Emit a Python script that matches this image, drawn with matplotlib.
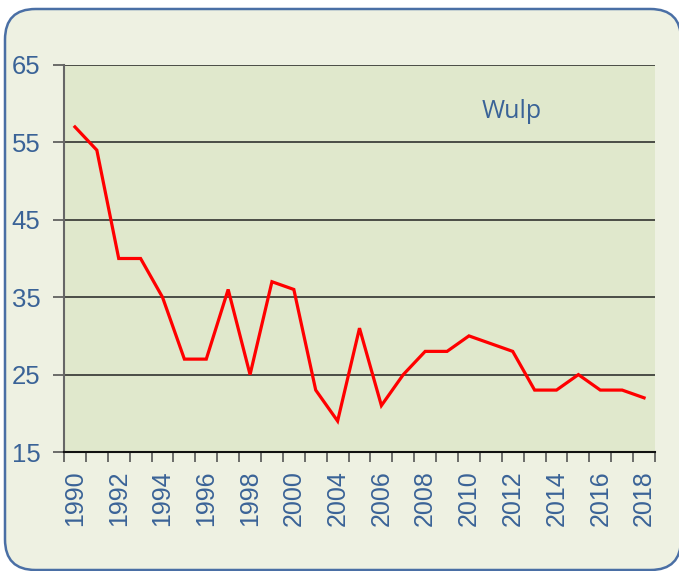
import matplotlib

matplotlib.use("Agg")

import matplotlib.pyplot as plt
from matplotlib.patches import FancyBboxPatch

# Jaren (categorie-as; tussen 2000 en 2004 staat maar één jaar)
jaren = [1990, 1991, 1992, 1993, 1994, 1995, 1996, 1997, 1998, 1999, 2000,
         2002, 2004, 2005, 2006, 2007, 2008, 2009, 2010, 2011, 2012, 2013,
         2014, 2015, 2016, 2017, 2018]
wulp = [57, 54, 40, 40, 35, 27, 27, 36, 25, 37, 36,
        23, 19, 31, 21, 25, 28, 28, 30, 29, 28, 23,
        23, 25, 23, 23, 22]
y_ticks = [15, 25, 35, 45, 55, 65]
titel = "Wulp"

W, H = 679, 571
BLAUW = "#3A6397"
ACHTERGROND = "#EEF1E2"
PLOTVLAK = "#E0E8CC"

fig = plt.figure(figsize=(W / 100, H / 100), dpi=100)
fig.patch.set_facecolor("white")

# afgeronde kader rond de grafiek
kader = FancyBboxPatch(
    (5 / W, 1 - 570 / H), 676 / W, 561 / H,
    boxstyle="round,pad=0,rounding_size=0.045",
    transform=fig.transFigure, facecolor=ACHTERGROND,
    edgecolor="#4A6FA5", linewidth=1.8, mutation_aspect=W / H, zorder=-5,
)
fig.patches.append(kader)

ax = fig.add_axes([64 / W, 1 - 452 / H, (655 - 64) / W, (452 - 65) / H])
ax.set_facecolor(PLOTVLAK)

x = list(range(len(jaren)))
ax.plot(x, wulp, color="#FF0000", linewidth=2.3, solid_joinstyle="miter", zorder=3)

ax.set_xlim(-0.5, len(jaren) - 0.5)
ax.set_ylim(15, 65)
ax.set_yticks(y_ticks)
ax.yaxis.grid(True, color="#222222", linewidth=1.1)
ax.set_axisbelow(True)

# streepjes op de categoriegrenzen, labels in het midden (om de andere)
ax.set_xticks([i - 0.5 for i in range(len(jaren) + 1)])
ax.set_xticklabels([])
ax.set_xticks(x[::2], minor=True)
ax.set_xticklabels([str(j) for j in jaren[::2]], minor=True, rotation=90,
                   fontsize=18, color=BLAUW, family="Liberation Sans")
ax.tick_params(axis="x", which="major", length=7, width=1.2, color="#555555")
ax.tick_params(axis="x", which="minor", length=0, pad=13)
ax.tick_params(axis="y", length=8, width=1.2, color="#555555", pad=9)
for lbl in ax.get_yticklabels():
    lbl.set_fontsize(18.5)
    lbl.set_color(BLAUW)
    lbl.set_family("Liberation Sans")

for kant in ["top", "right"]:
    ax.spines[kant].set_visible(False)
ax.spines["left"].set_color("#666666")
ax.spines["left"].set_linewidth(1.5)
ax.spines["bottom"].set_color("#111111")
ax.spines["bottom"].set_linewidth(1.5)

ax.text(0.707, 0.879, titel, transform=ax.transAxes, fontsize=18,
        color=BLAUW, family="Open Sans", va="center", ha="left")

fig.savefig("out.png", dpi=100, facecolor=fig.get_facecolor())
